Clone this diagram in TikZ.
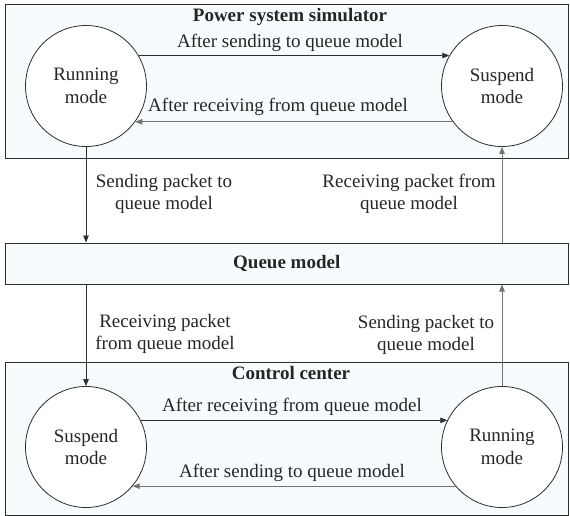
\documentclass[tikz,border=0pt]{standalone}
\usepackage{fontspec}
\setmainfont{Liberation Serif}
\usetikzlibrary{shapes,arrows,positioning}
\usetikzlibrary{arrows.meta}
\definecolor{panelFill}{RGB}{246,252,253}
\definecolor{lineDark}{RGB}{45,45,45}
\definecolor{lineGray}{RGB}{115,115,115}

\begin{document}
\begin{tikzpicture}[x=1pt, y=-1pt,
    every node/.style={font=\fontsize{19}{22.5}\selectfont, text=black!85},
    title/.style={font=\fontsize{19}{22.5}\selectfont\bfseries},
    mode/.style={circle, draw=lineDark, fill=white, line width=0.8pt, minimum size=121pt, align=center, inner sep=0pt},
    panel/.style={fill=panelFill, draw=lineDark, line width=1pt},
    flow/.style={draw=lineDark, line width=0.8pt, -{Triangle[length=7pt,width=5.5pt]}},
    back/.style={flow, draw=lineGray}]
    \useasboundingbox (0,0) rectangle (570,516);

    % Power system simulator (top)
    \draw[panel] (5,5) rectangle (568.5,158);
    \node[title] (simTitle) at (290,17) {Power system simulator};
    \node[mode] (simRun) at (86,86) {Running\\mode};
    \node[mode] (simSus) at (502,86) {Suspend\\mode};
    \draw[flow] (simRun.30) -- (simSus.150);
    \draw[back] (simSus.-144) -- (simRun.-36);
    \node (simSend) at (290,43) {After sending to queue model};
    \node (simRecv) at (278,107) {After receiving from queue model};

    % Queue model in middle
    \node[panel, title, minimum width=563.5pt, minimum height=41pt, inner sep=0pt] (queue) at (286.75,263.5) {Queue model};

    % Control center (bottom)
    \draw[panel] (5,362) rectangle (568.5,515);
    \node[title] (ccTitle) at (291,373) {Control center};
    \node[mode] (ccSus) at (86,447) {Suspend\\mode};
    \node[mode] (ccRun) at (502,447) {Running\\mode};
    \draw[flow] (ccSus.26) -- (ccRun.154);
    \draw[back] (ccRun.-140) -- (ccSus.-40);
    \node (ccRecv) at (292,407) {After receiving from queue model};
    \node (ccSend) at (292,473) {After sending to queue model};

    % Packets between the sides
    \draw[flow] (simRun.south) -- (simRun.south |- queue.north);
    \draw[back] (simSus.south |- queue.north) -- (simSus.south);
    \draw[flow] (ccSus.north |- queue.south) -- (ccSus.north);
    \draw[back] (ccRun.north) -- (ccRun.north |- queue.south);
    \node[align=center] (upSend) at (164,194) {Sending packet to\\queue model};
    \node[align=center] (upRecv) at (409,194) {Receiving packet from\\queue model};
    \node[align=center] (downRecv) at (165,334) {Receiving packet\\from queue model};
    \node[align=center] (downSend) at (426,335) {Sending packet to\\queue model};
\end{tikzpicture}
\end{document}
